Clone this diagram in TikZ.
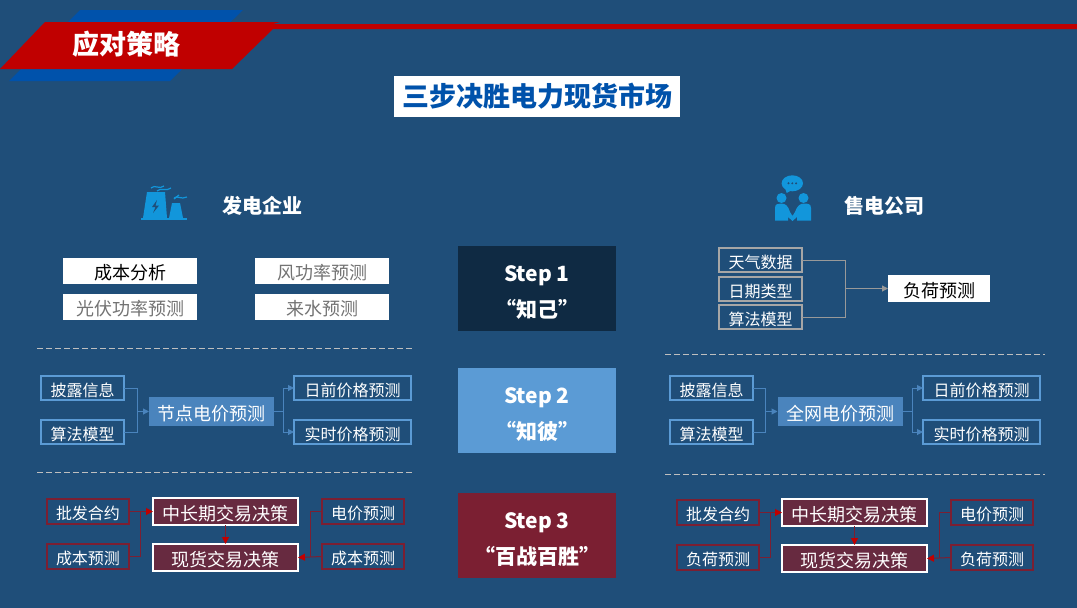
\documentclass[tikz,border=0pt]{standalone}
\usepackage{fontspec}
\setmainfont{Noto Sans CJK SC}
\usepackage{tikz}
\usetikzlibrary{arrows.meta, positioning}

\definecolor{pagebg}{HTML}{1F4E79}
\definecolor{bannerred}{HTML}{C00000}
\definecolor{bannerblue}{HTML}{0052AB}
\definecolor{iconblue}{HTML}{1296DB}
\definecolor{sky}{HTML}{5B9BD5}
\definecolor{skyfill}{HTML}{4A84BD}
\definecolor{wine}{HTML}{7B1F32}
\definecolor{winefill}{HTML}{672A40}
\definecolor{navy}{HTML}{0F2A43}

\newcommand{\stepgap}{\rule{0pt}{23.5pt}}

\tikzset{
	box/.style = {draw, outer sep=0pt, inner sep=0pt, text=white, text height=16pt, text depth=0pt, font=\fontsize{16}{18}\selectfont},
	bigbox/.style = {box, text height=17pt, font=\fontsize{18}{20}\selectfont},
	whitebox/.style = {bigbox, draw=none, fill=white, text=black!55, minimum width=134pt, minimum height=26pt},
	greybox/.style = {box, draw=black!35, line width=1.8pt, minimum width=83pt, minimum height=24pt},
	bluebox/.style = {box, draw=sky, line width=1.8pt, minimum width=83pt, minimum height=24pt},
	bluewide/.style = {bluebox, minimum width=117pt},
	pricebox/.style = {bigbox, draw=none, fill=skyfill, minimum width=125pt, minimum height=29pt},
	redbox/.style = {box, draw=wine, line width=1.8pt, minimum width=82pt, minimum height=25pt},
	dealbox/.style = {bigbox, draw=white, fill=winefill, line width=1.8pt, minimum width=145pt, minimum height=27pt},
	stepbox/.style = {draw=none, outer sep=0pt, inner sep=0pt, text=white, minimum width=158pt, minimum height=85pt, align=center, font=\fontsize{21}{36}\selectfont\bfseries},
	head/.style = {text=white, inner sep=0pt, font=\fontsize{20}{22}\selectfont\bfseries},
	divider/.style = {black!25, line width=1pt, dash pattern=on 5.5pt off 3.5pt},
	bluelink/.style = {draw=skyfill, line width=1pt},
	greylink/.style = {draw=black!40, line width=1pt},
	redlink/.style = {draw=wine, line width=1pt},
	bluetip/.style = {-{Triangle[length=6pt,width=6pt]}, bluelink},
	greytip/.style = {-{Triangle[length=6pt,width=6pt]}, greylink},
	redtip/.style = {-{Triangle[length=7pt,width=7pt,color=bannerred]}, redlink},
	smoke/.style = {iconblue, line width=1.2pt},
}

\begin{document}
\begin{tikzpicture}[x=1pt, y=-1pt]
	\useasboundingbox [fill=pagebg] (0,0) rectangle (1077,608);

	% banner
	\fill [bannerblue] (80,10) -- (243,10) -- (170,81) -- (9,81) -- cycle;
	\fill [bannerred] (45,22) -- (280,22) -- (273,24) -- (1077,24) -- (1077,29) -- (273,29) -- (232,69) -- (0,69) -- cycle;
	\node [head, font=\fontsize{27}{30}\selectfont\bfseries] (banner) at (126,44) {应对策略};
	\node [fill=white, text=bannerblue, minimum width=286pt, minimum height=41pt, inner sep=0pt, font=\fontsize{27}{30}\selectfont\bfseries] (title) at (537,96.5) {三步决胜电力现货市场};

	% steps
	\node [stepbox, fill=navy] (step1) at (537,288.5) {\stepgap Step 1\\“知己”};
	\node [stepbox, fill=sky, below = 37pt of step1] (step2) {\stepgap Step 2\\“知彼”};
	\node [stepbox, fill=wine, below = 40pt of step2] (step3) {\stepgap Step 3\\“百战百胜”};

	% generator side
	\node [head] (gen) at (262,205.5) {发电企业};
	\fill [iconblue] (141,218) rectangle (187,220);
	\fill [iconblue] (147,192) -- (165,192) -- (167,218) -- (143,218) -- cycle;
	\fill [iconblue] (172,203) -- (180,203) -- (183,218) -- (169,218) -- cycle;
	\fill [pagebg] (157,200) -- (152,207) -- (155.5,207) -- (153,213) -- (159,205.5) -- (155.5,205.5) -- cycle;
	\draw [smoke] (151,188) .. controls (155,184) and (159,190) .. (164,186);
	\draw [smoke] (157,191) .. controls (161,187) and (166,192) .. (171,188);
	\draw [smoke] (174,198) .. controls (177,195) and (181,200) .. (187,197);
	\draw [smoke] (174,199) -- (179,195);

	\node [whitebox, text=black] (cost) at (130,271) {成本分析};
	\node [whitebox, right = 58pt of cost] (wind) {风功率预测};
	\node [whitebox, below = 10pt of cost] (solar) {光伏功率预测};
	\node [whitebox, below = 10pt of wind] (water) {来水预测};

	\coordinate (divA1) at (37,348);
	\coordinate (divA2) at (414,348);
	\coordinate (divB1) at (37,472);
	\coordinate (divB2) at (414,472);
	\draw [divider] (divA1) -- (divA2);
	\draw [divider] (divB1) -- (divB2);

	\node [bluebox] (gdisclose) at (82.5,388) {披露信息};
	\node [bluebox, below = 20pt of gdisclose] (galgo) {算法模型};
	\node [pricebox] (gprice) at (211.5,411.5) {节点电价预测};
	\node [bluewide] (gday) at (352.5,388) {日前价格预测};
	\node [bluewide, below = 20pt of gday] (greal) {实时价格预测};
	\coordinate (gjoin) at (137,411.5);
	\coordinate (gfork) at (283,411.5);
	\draw [bluelink] (gdisclose.east) -| (gjoin);
	\draw [bluelink] (galgo.east) -| (gjoin);
	\draw [bluetip] (gjoin) -- (gprice.west);
	\draw [bluelink] (gprice.east) -- (gfork);
	\draw [bluetip] (gfork) |- (gday.west);
	\draw [bluetip] (gfork) |- (greal.west);

	\node [redbox] (gbulk) at (88,511.5) {批发合约};
	\node [redbox, below = 20pt of gbulk] (gcost) {成本预测};
	\node [dealbox] (glong) at (225.5,511.5) {中长期交易决策};
	\node [dealbox, below = 19pt of glong] (gspot) {现货交易决策};
	\node [redbox] (gpriceb) at (363,511.5) {电价预测};
	\node [redbox, below = 20pt of gpriceb] (gcostb) {成本预测};
	\coordinate (gleft) at (140.5,511.5);
	\coordinate (gright) at (310,556.5);
	\draw [redlink] (gcost.east) -| (gleft);
	\draw [redtip] (gbulk.east) -- (glong.west);
	\draw [redtip] (glong.south) -- (gspot.north);
	\draw [redlink] (gpriceb.west) -| (gright);
	\draw [redtip] (gcostb.west) -- (gspot.east);

	% retailer side
	\node [head] (ret) at (884,205.5) {售电公司};
	\fill [iconblue] (792.3,183.3) ellipse [x radius=10.7, y radius=8];
	\fill [iconblue] (785,188) -- (786.7,193) -- (792,190) -- cycle;
	\foreach \dotx in {788.5,792.3,796.1}
		\fill [pagebg] (\dotx,183.3) circle [radius=1.1];
	\fill [iconblue] (781.5,198) circle [radius=5];
	\fill [iconblue] (803.5,198) circle [radius=5];
	\fill [iconblue] (775,220.5) -- (775,208) .. controls (775,204) and (778,203.5) .. (781,203.5) .. controls (786,203.5) and (788,206) .. (790,212) -- (792.5,216) -- (795,212) .. controls (797,206) and (800,203.5) .. (804,203.5) .. controls (808,203.5) and (811,204) .. (811,208) -- (811,220.5) -- (797,220.5) -- (797,217) -- (792.5,221) -- (788,217) -- (788,220.5) -- cycle;

	\node [greybox] (weather) at (760.5,260) {天气数据};
	\node [greybox, below = 5pt of weather] (datetype) {日期类型};
	\node [greybox, below = 4pt of datetype] (ralgo) {算法模型};
	\node [bigbox, draw=none, fill=white, text=black, minimum width=102pt, minimum height=27pt] (load) at (939,288.5) {负荷预测};
	\coordinate (rjoin) at (845,288.5);
	\draw [greylink] (weather.east) -| (rjoin);
	\draw [greylink] (ralgo.east) -| (rjoin);
	\draw [greytip] (rjoin) -- (load.west);

	\coordinate (divC1) at (665,354);
	\coordinate (divC2) at (1045,354);
	\coordinate (divD1) at (665,474);
	\coordinate (divD2) at (1045,474);
	\draw [divider] (divC1) -- (divC2);
	\draw [divider] (divD1) -- (divD2);

	\node [bluebox] (rdisclose) at (711.5,388) {披露信息};
	\node [bluebox, below = 20pt of rdisclose] (ralgob) {算法模型};
	\node [pricebox] (rprice) at (840,411.5) {全网电价预测};
	\node [bluewide] (rday) at (981.5,388) {日前价格预测};
	\node [bluewide, below = 20pt of rday] (rreal) {实时价格预测};
	\coordinate (rfan) at (765,411.5);
	\coordinate (rfork) at (912,411.5);
	\draw [bluelink] (rdisclose.east) -| (rfan);
	\draw [bluelink] (ralgob.east) -| (rfan);
	\draw [bluetip] (rfan) -- (rprice.west);
	\draw [bluelink] (rprice.east) -- (rfork);
	\draw [bluetip] (rfork) |- (rday.west);
	\draw [bluetip] (rfork) |- (rreal.west);

	\node [redbox] (rbulk) at (718,512.5) {批发合约};
	\node [redbox, below = 20pt of rbulk] (rload) {负荷预测};
	\node [dealbox] (rlong) at (854.5,512.5) {中长期交易决策};
	\node [dealbox, below = 19pt of rlong] (rspot) {现货交易决策};
	\node [redbox] (rpriceb) at (992,512.5) {电价预测};
	\node [redbox, below = 20pt of rpriceb] (rloadb) {负荷预测};
	\coordinate (rleft) at (770,512.5);
	\coordinate (rright) at (939,557.5);
	\draw [redlink] (rload.east) -| (rleft);
	\draw [redtip] (rbulk.east) -- (rlong.west);
	\draw [redtip] (rlong.south) -- (rspot.north);
	\draw [redlink] (rpriceb.west) -| (rright);
	\draw [redtip] (rloadb.west) -- (rspot.east);
\end{tikzpicture}
\end{document}
